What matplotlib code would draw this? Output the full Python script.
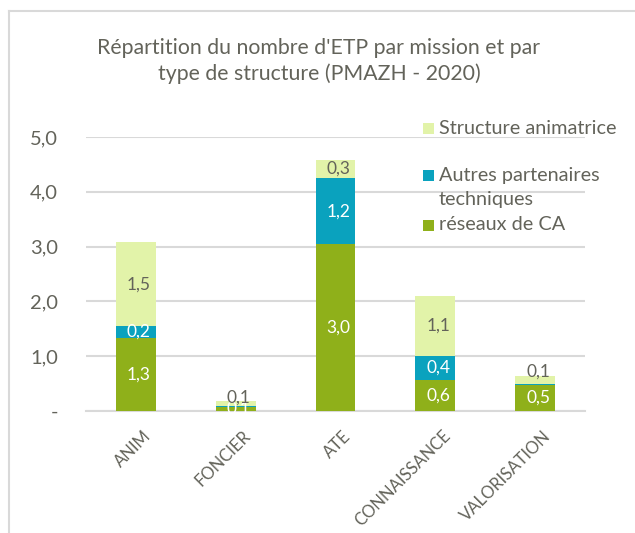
import matplotlib
matplotlib.use("Agg")
import matplotlib.pyplot as plt
from matplotlib.patches import Rectangle
from matplotlib.lines import Line2D
import matplotlib.transforms as mtransforms

categories = ["ANIM", "FONCIER", "ATE", "CONNAISSANCE", "VALORISATION"]
reseaux_ca = [1.34, 0.07, 3.04, 0.57, 0.48]
autres_partenaires = [0.21, 0.02, 1.21, 0.44, 0.02]
structure_animatrice = [1.53, 0.09, 0.33, 1.08, 0.14]
series_names = ["réseaux de CA", "Autres partenaires\ntechniques", "Structure animatrice"]
yticks = [0, 1, 2, 3, 4, 5]
ytick_labels = ["-", "1,0", "2,0", "3,0", "4,0", "5,0"]
title = "Répartition du nombre d'ETP par mission et par\ntype de structure (PMAZH - 2020)"

C_GREEN = "#8FB01A"
C_BLUE = "#0AA2BE"
C_LIGHT = "#E2F3A9"
C_TEXT = "#63635A"
C_GRID = "#D9D9D9"

plt.rcParams["font.family"] = ["Lato", "DejaVu Sans"]

W, H = 635, 533
fig = plt.figure(figsize=(W / 100, H / 100), dpi=100)
ax = fig.add_axes([86 / W, 1 - 411 / H, (585 - 86) / W, (411 - 137) / H])

x = list(range(len(categories)))
bw = 0.4
ax.bar(x, reseaux_ca, bw, color=C_GREEN, zorder=3, label=series_names[0])
bottom2 = reseaux_ca
ax.bar(x, autres_partenaires, bw, bottom=bottom2, color=C_BLUE, zorder=3, label=series_names[1])
bottom3 = [a + b for a, b in zip(reseaux_ca, autres_partenaires)]
ax.bar(x, structure_animatrice, bw, bottom=bottom3, color=C_LIGHT, zorder=3, label=series_names[2])

def fmt(v):
    return f"{v:.1f}".replace(".", ",")

for i in x:
    ax.text(i + 0.03, reseaux_ca[i] / 2, fmt(reseaux_ca[i]), ha="center", va="center",
            color="white", fontsize=12.5, zorder=4)
    if autres_partenaires[i] >= 0.1:
        ax.text(i + 0.03, bottom2[i] + autres_partenaires[i] / 2, fmt(autres_partenaires[i]),
                ha="center", va="center", color="white", fontsize=12.5, zorder=4)
    yv = bottom3[i] + structure_animatrice[i] / 2
    if structure_animatrice[i] < 0.2:
        yv = bottom3[i] + structure_animatrice[i] + 0.07
    ax.text(i + 0.03, yv, fmt(structure_animatrice[i]), ha="center", va="center",
            color=C_TEXT, fontsize=12.5, zorder=4)

ax.set_xlim(-0.5, len(categories) - 0.5)
ax.set_ylim(0, 5)
ax.set_yticks(yticks)
ax.set_yticklabels(ytick_labels)
ax.set_xticks(x)
ax.set_xticklabels(categories, rotation=45, ha="right", rotation_mode="anchor")
ax.tick_params(axis="y", length=0, pad=20, labelsize=14.5, labelcolor=C_TEXT)
ax.tick_params(axis="x", length=0, pad=12, labelsize=12, labelcolor=C_TEXT)
for lbl in ax.get_xticklabels():
    lbl.set_transform(lbl.get_transform() + mtransforms.ScaledTranslation(5 / 72, 0, fig.dpi_scale_trans))
ax.grid(axis="y", color=C_GRID, linewidth=1.5, zorder=0)
for s in ["top", "right", "left"]:
    ax.spines[s].set_visible(False)
ax.spines["bottom"].set_color(C_GRID)
ax.spines["bottom"].set_linewidth(1.5)

fig.text(319 / W, 1 - 61 / H, title, ha="center", va="center", fontsize=15.3,
         color=C_TEXT, linespacing=1.35)

# legend (manual placement, Excel-like layout)
legend_rows = [(C_LIGHT, ["Structure animatrice"], 128),
               (C_BLUE, ["Autres partenaires", "techniques"], 176),
               (C_GREEN, ["réseaux de CA"], 225)]
for col, lines, yp in legend_rows:
    fig.patches.append(Rectangle((423 / W, 1 - (yp + 5.5) / H), 11 / W, 11 / H,
                                 transform=fig.transFigure, facecolor=col, edgecolor="none"))
    for k, line in enumerate(lines):
        fig.text(439 / W, 1 - (yp + 24 * k) / H, line, ha="left", va="center",
                 fontsize=14.3, color=C_TEXT)

# outer frame (partly cropped)
fig.add_artist(Line2D([8.5 / W, 8.5 / W], [0, 1 - 10.5 / H], transform=fig.transFigure,
                      color="#D9D9D9", linewidth=1.5))
fig.add_artist(Line2D([8.5 / W, 1], [1 - 10.5 / H, 1 - 10.5 / H], transform=fig.transFigure,
                      color="#D9D9D9", linewidth=1.5))

fig.savefig("out.png", dpi=100)
